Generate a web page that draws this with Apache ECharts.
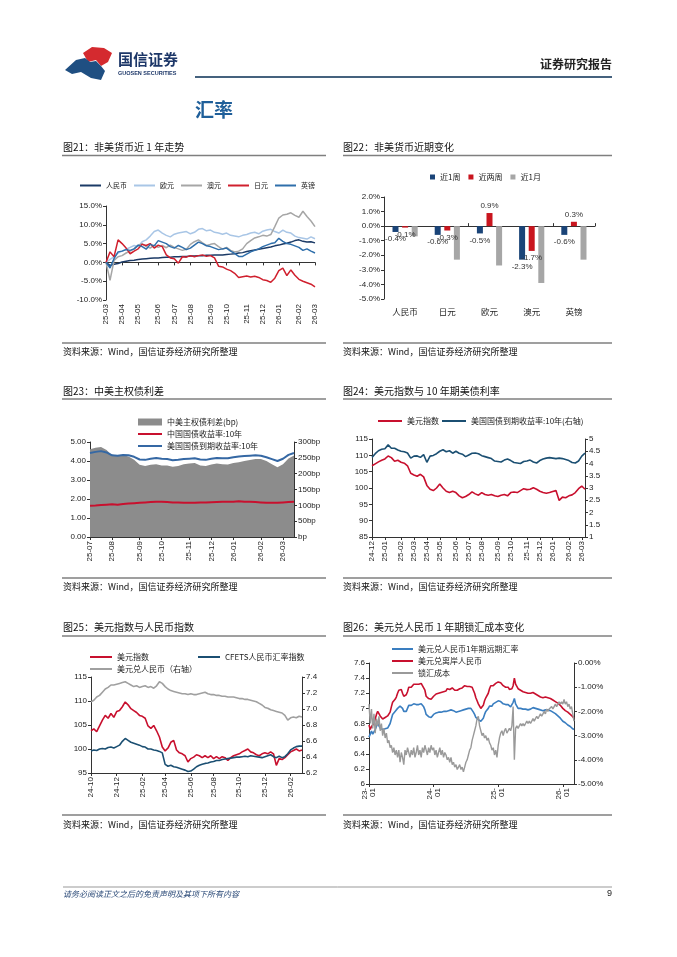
<!DOCTYPE html>
<html><head><meta charset="utf-8">
<script src="https://cdn.jsdelivr.net/npm/echarts@6.0.0/dist/echarts.min.js"></script>
<style>html,body{margin:0;padding:0;background:#fff}#c{width:677px;height:957px}</style>
</head><body><div id="c"></div>
<script>
// ---------- 图21 非美货币近1年走势 (weekly, %) ----------
const start21 = '2025-03-07';
const cny21 = [0,-0.8,-0.5,-0.3,0.1,0.3,0.5,0.6,0.8,0.9,1.0,1.1,1.2,1.2,1.3,1.4,1.4,1.5,1.5,1.6,1.6,1.7,1.7,1.8,1.8,1.9,1.9,2.0,2.0,2.0,2.1,2.2,2.3,2.5,2.6,2.9,3.1,3.3,3.5,3.7,3.9,4.1,4.4,4.6,4.9,5.1,5.4,5.8,6.0,5.6,5.4,5.5,5.2];
const eur21 = [0,0.8,1.5,2.5,3.0,3.5,4.0,4.5,4.2,5.5,6.0,7.0,8.2,8.6,7.8,7.2,6.8,7.5,7.8,8.0,8.2,7.6,8.0,8.8,9.0,8.4,8.6,8.0,7.8,7.5,7.8,7.2,7.0,6.8,7.2,7.4,7.8,8.0,7.6,8.3,8.6,8.8,8.2,7.8,8.6,8.0,7.8,7.0,6.6,6.4,6.2,6.8,6.3];
const aud21 = [0,-4.8,0.5,1.5,1.8,2.5,3.0,3.6,4.5,5.0,4.2,3.8,4.6,4.0,4.5,3.9,4.6,4.0,3.6,3.2,3.5,4.8,5.5,6.0,5.2,4.5,4.8,5.0,4.2,3.5,4.0,3.2,2.8,3.0,3.6,5.0,5.8,6.5,6.8,7.2,7.0,7.4,9.5,11.8,12.6,12.8,13.2,12.5,12.0,13.6,12.2,11.0,9.5];
const jpy21 = [0,2.8,1.5,6.0,5.0,3.8,2.3,3.0,3.6,4.8,4.5,5.0,3.8,4.6,4.2,2.0,1.2,1.0,-0.2,1.5,1.4,1.8,1.5,1.8,2.0,1.6,1.8,1.2,-1.0,-1.2,-1.8,-2.2,-2.9,-4.0,-3.8,-3.6,-3.9,-3.7,-4.0,-4.6,-4.8,-5.3,-4.2,-2.2,-1.5,-3.5,-2.0,-3.4,-4.5,-5.0,-5.4,-5.8,-6.5];
const gbp21 = [0,-1.5,1.0,2.8,3.0,3.4,3.2,3.6,4.6,4.2,3.5,4.8,4.4,5.8,5.4,5.0,4.2,3.8,4.5,4.0,3.4,3.8,4.6,5.4,5.0,4.4,4.2,3.8,3.4,3.6,3.8,3.0,2.4,1.6,1.6,2.2,2.8,3.2,3.6,4.2,4.6,5.0,5.2,6.4,5.6,5.0,4.8,4.4,4.0,3.2,3.6,3.0,2.5];
const names21 = ['人民币','欧元','澳元','日元','英镑'];

// ---------- 图22 非美货币近期变化 (%) ----------
const cats22 = ['人民币','日元','欧元','澳元','英镑'];
const week1_22 = [-0.4,-0.6,-0.5,-2.3,-0.6];
const week2_22 = [-0.1,-0.3,0.9,-1.7,0.3];
const month1_22 = [-0.7,-2.3,-2.7,-3.9,-2.3];

// ---------- 图23 中美主权债利差 (weekly) ----------
const start23 = '2025-07-04';
const spread23 = [277,282,284,275,258,258,258,254,244,228,224,228,230,226,226,222,224,230,232,234,226,224,229,232,230,229,234,236,240,243,246,246,240,230,220,230,248,257];
const cn23 = [1.65,1.66,1.68,1.70,1.72,1.70,1.74,1.76,1.78,1.80,1.82,1.84,1.86,1.86,1.84,1.82,1.82,1.80,1.80,1.80,1.82,1.82,1.83,1.84,1.85,1.85,1.86,1.88,1.86,1.85,1.84,1.82,1.80,1.80,1.80,1.82,1.84,1.85];
const us23 = [4.42,4.48,4.52,4.45,4.30,4.28,4.32,4.30,4.22,4.08,4.06,4.12,4.16,4.12,4.10,4.04,4.06,4.10,4.12,4.14,4.08,4.06,4.12,4.16,4.15,4.14,4.20,4.24,4.26,4.28,4.30,4.28,4.20,4.10,4.00,4.12,4.32,4.42];

// ---------- 图24 美元指数与10年期美债利率 (weekly) ----------
const start24 = '2024-12-06';
const dxy24 = [106.8,107.4,108.0,108.5,108.9,109.8,109.3,108.2,108.5,107.9,107.6,106.8,104.5,104.0,103.6,104.2,103.4,100.8,99.6,99.2,100.0,101.2,100.0,99.0,98.6,99.0,98.6,97.6,97.0,97.4,98.0,98.8,98.2,97.8,98.6,98.0,97.8,98.0,97.6,97.4,97.8,98.0,97.6,98.6,98.8,98.6,99.2,99.8,99.5,99.6,100.1,99.6,99.0,98.6,98.4,98.6,98.9,99.2,96.2,97.2,97.0,97.6,97.9,98.6,99.8,100.6,99.6];
const ust24 = [4.25,4.40,4.52,4.58,4.60,4.76,4.62,4.62,4.55,4.50,4.48,4.43,4.22,4.30,4.31,4.25,4.36,4.05,4.30,4.33,4.40,4.50,4.56,4.48,4.52,4.42,4.50,4.42,4.38,4.28,4.35,4.42,4.43,4.40,4.32,4.28,4.24,4.20,4.10,4.08,4.06,4.14,4.18,4.12,4.04,4.02,4.00,4.08,4.10,4.14,4.06,4.02,4.12,4.18,4.22,4.24,4.22,4.20,4.22,4.20,4.16,4.12,4.04,4.02,4.10,4.30,4.42];

// ---------- 图25 美元指数与人民币指数 (weekly) ----------
const start25 = '2024-10-04';
const dxy25 = [103.8,104.2,103.6,104.8,106.0,107.0,106.4,107.4,106.6,107.8,108.0,108.8,109.8,109.2,108.4,108.0,107.6,107.0,106.8,106.4,104.8,104.3,104.9,103.8,102.5,100.4,99.6,100.2,101.4,101.8,99.8,99.2,99.0,98.6,97.3,98.0,98.3,98.8,98.6,98.2,98.6,98.2,98.6,98.0,98.4,98.0,98.4,98.2,97.6,98.2,98.6,98.8,99.0,99.4,99.7,100.0,99.4,99.2,98.8,98.6,99.0,99.2,99.0,99.4,99.0,96.6,98.0,97.8,98.2,98.8,99.4,99.7,100.0,99.6,99.8];
const cfets25 = [99.6,99.8,99.7,100.0,100.1,100.0,100.3,100.4,100.2,100.5,100.8,101.6,102.2,101.8,101.4,101.2,101.0,100.8,100.5,100.4,100.0,100.0,99.8,99.7,99.5,99.2,96.8,96.4,96.6,96.3,96.2,96.0,95.8,95.6,95.3,95.4,95.8,96.3,96.6,96.8,97.0,97.1,97.3,97.4,97.6,97.6,97.8,97.9,98.0,98.1,98.2,98.3,98.3,98.4,98.5,98.4,98.6,98.5,98.4,98.3,98.2,98.4,98.6,98.8,98.4,98.2,98.5,98.2,98.4,99.0,99.8,100.2,100.5,100.6,100.6];
const cny25 = [7.09,7.11,7.15,7.17,7.21,7.25,7.27,7.30,7.30,7.31,7.32,7.33,7.34,7.32,7.30,7.28,7.29,7.27,7.28,7.29,7.27,7.28,7.26,7.29,7.34,7.32,7.28,7.25,7.23,7.22,7.21,7.20,7.19,7.19,7.18,7.19,7.18,7.18,7.19,7.20,7.21,7.19,7.18,7.18,7.17,7.17,7.16,7.16,7.15,7.15,7.15,7.14,7.13,7.13,7.12,7.12,7.11,7.10,7.09,7.07,7.05,7.02,7.01,6.99,6.98,6.97,6.96,6.95,6.92,6.86,6.89,6.90,6.89,6.91,6.90];

// ---------- 图26 美元兑人民币1年期锁汇成本变化 (weekly) ----------
const start26 = '2023-01-06';
const fwd26 = [6.62,6.66,6.70,6.66,6.68,6.72,6.76,6.80,6.78,6.74,6.72,6.72,6.74,6.73,6.72,6.74,6.76,6.80,6.86,6.92,6.94,6.96,6.98,7.00,7.02,7.03,7.04,7.00,6.96,6.95,6.96,7.00,7.04,7.05,7.04,7.05,7.06,7.04,7.05,7.06,7.05,7.04,7.06,7.04,7.02,6.98,6.92,6.90,6.89,6.90,6.88,6.90,
6.92,6.93,6.94,6.93,6.95,6.95,6.95,6.96,6.96,6.94,6.96,6.98,6.97,6.97,6.98,6.98,6.97,6.96,6.95,6.96,6.96,6.97,6.97,6.98,6.98,7.00,6.99,7.00,7.00,6.99,7.00,6.98,6.95,6.92,6.88,6.86,6.85,6.84,6.83,6.83,6.87,6.92,6.96,6.98,7.00,7.03,7.04,7.03,7.06,7.07,7.08,7.09,
7.10,7.11,7.09,7.08,7.06,7.06,7.05,7.03,7.05,7.03,7.02,7.04,7.08,7.13,7.06,7.04,7.00,6.99,7.00,6.99,6.99,6.99,6.99,6.99,6.98,7.00,6.99,7.00,7.01,7.01,7.00,7.00,6.99,6.98,6.98,6.97,6.97,6.98,6.98,6.97,6.98,6.97,6.97,6.96,6.95,6.95,6.93,6.91,6.90,6.89,6.87,6.85,
6.83,6.82,6.81,6.80,6.78,6.77,6.76,6.74,6.73,6.72];
const cnh26 = [6.78,6.72,6.76,6.78,6.80,6.86,6.92,6.96,6.96,6.90,6.88,6.86,6.88,6.88,6.87,6.90,6.92,6.95,7.02,7.08,7.10,7.12,7.15,7.20,7.24,7.26,7.25,7.20,7.16,7.15,7.18,7.22,7.28,7.30,7.28,7.30,7.32,7.30,7.32,7.33,7.32,7.31,7.33,7.30,7.28,7.24,7.16,7.14,7.13,7.14,7.12,7.14,
7.16,7.18,7.19,7.18,7.20,7.21,7.21,7.22,7.22,7.20,7.23,7.26,7.25,7.25,7.26,7.27,7.26,7.24,7.23,7.24,7.25,7.26,7.26,7.27,7.28,7.30,7.28,7.29,7.30,7.29,7.30,7.28,7.24,7.20,7.14,7.10,7.06,7.03,7.00,6.99,7.04,7.10,7.14,7.16,7.20,7.26,7.30,7.28,7.30,7.32,7.33,7.34,
7.35,7.36,7.34,7.33,7.30,7.30,7.28,7.26,7.28,7.25,7.24,7.26,7.30,7.40,7.32,7.30,7.26,7.24,7.24,7.23,7.22,7.22,7.21,7.21,7.20,7.21,7.20,7.20,7.21,7.20,7.19,7.18,7.17,7.16,7.15,7.15,7.14,7.15,7.15,7.14,7.14,7.13,7.13,7.12,7.11,7.10,7.09,7.08,7.07,7.06,7.04,7.02,
7.00,6.99,6.97,6.96,6.95,6.93,6.92,6.91,6.89,6.87];
const cost26 = [-1.7,-2.5,-1.9,-2.7,-2.1,-2.9,-2.3,-2.6,-2.2,-2.8,-2.5,-3.0,-2.7,
-3.1,-2.9,-3.3,-3.2,-3.5,-3.4,-3.7,-3.5,-3.8,-3.6,
-3.9,-3.6,-4.1,-3.7,-3.9,-4.2,-3.6,-3.8,-3.5,-3.7,
-3.9,-3.6,-3.8,-3.5,-3.9,-3.7,-3.4,-3.8,-3.6,-3.9,
-3.5,-3.7,-3.4,-3.6,-3.8,-3.5,-3.7,-3.4,-3.6,
-3.5,-3.8,-3.6,-3.9,-3.7,-3.5,-3.8,-3.6,-3.9,-3.7,
-3.8,-4.0,-3.9,-4.1,-3.9,-4.2,-4.1,-4.3,-4.2,-4.4,
-4.3,-4.2,-4.4,-4.3,-4.5,-4.3,-4.1,-4.0,-3.8,-3.6,
-3.5,-3.2,-3.0,-2.8,-2.6,-2.3,-2.2,-2.6,-2.8,-3.0,
-2.9,-3.1,-3.0,-3.2,-3.1,-3.3,-3.4,-3.6,-3.5,-3.8,-3.6,-3.9,
-3.4,-3.1,-2.9,-2.8,-3.0,-2.8,-2.7,-2.9,-2.8,-2.7,-2.8,-2.6,
-1.8,-4.0,-2.7,-2.6,
-2.7,-2.6,-2.5,-2.6,-2.5,-2.6,-2.5,-2.4,-2.5,-2.4,-2.5,-2.4,
-2.3,-2.4,-2.3,-2.2,-2.3,-2.2,-2.1,-2.2,-2.1,-2.0,-2.1,-1.9,
-2.0,-1.9,-1.9,-1.8,-1.9,-1.8,-1.7,-1.8,-1.7,-1.6,-1.7,-1.6,
-1.7,-1.5,-1.7,-1.6,-1.8,-1.7,-1.9,-1.8,-2.1,-2.4];

// ---------- helpers ----------
const FONT = "'Liberation Sans','Noto Sans CJK SC',sans-serif";
const CJK = "'Noto Sans CJK SC','Liberation Sans',sans-serif";
const AX = '#333';
function weekDates(start, n){ const t0 = Date.parse(start + 'T00:00:00Z'); const out = []; for (let i = 0; i < n; i++) out.push(new Date(t0 + i*7*86400000).toISOString().slice(0,10)); return out; }
function monthStarts(cats, keep){ const s = new Set(); for (let i = 0; i < cats.length; i++){ const m = cats[i].slice(0,7); if (i === 0 || m !== cats[i-1].slice(0,7)){ if (!keep || keep(+cats[i].slice(5,7))) s.add(i); } } return (idx) => s.has(idx); }
const fmtYM = v => v.slice(2,7);
const fmtYM2 = v => v.slice(2,5) + '\n' + v.slice(5,7);

const cats21 = weekDates(start21, cny21.length);
const cats23 = weekDates(start23, us23.length);
const cats24 = weekDates(start24, dxy24.length);
const cats25 = weekDates(start25, dxy25.length);
const cats26 = weekDates(start26, cnh26.length);

function valAxis(grid, min, max, interval, fmt, pos){
  return { type:'value', gridIndex:grid, min, max, interval, position:pos||'left',
    axisLine:{show:true, onZero:false, lineStyle:{color:AX, width:1}},
    axisTick:{show:true, length:3, lineStyle:{color:AX}},
    splitLine:{show:false},
    axisLabel:{formatter:fmt, fontSize:8, color:'#222', margin:4, fontFamily:FONT} };
}
function dateAxis(grid, cats, fmt, keep, hideLine){
  const show = monthStarts(cats, keep);
  return { type:'category', gridIndex:grid, data:cats, boundaryGap:false, position:'bottom',
    axisLine:{show:!hideLine, onZero:false, lineStyle:{color:AX}},
    axisTick:{show:!hideLine, interval:(i)=>show(i), length:3, lineStyle:{color:AX}},
    axisLabel:{interval:(i)=>show(i), formatter:fmt, rotate:90, fontSize:8, color:'#222', margin:4, fontFamily:FONT},
    splitLine:{show:false} };
}
function ln(name, x, y, data, color, w, z){
  return { type:'line', name, xAxisIndex:x, yAxisIndex:y, data, symbol:'none', showSymbol:false, color,
    lineStyle:{color, width:w||1.5}, itemStyle:{color}, z:z||2, silent:true };
}
function lg(left, top, names, iw, ih, gap, fs){
  return { left, top, padding:0, data:names, icon:'rect', itemWidth:iw||22, itemHeight:ih||2, itemGap:gap||8,
    selectedMode:false, textStyle:{fontSize:fs||8, color:'#222', fontFamily:CJK} };
}

const C21 = {cny:'#1b3a66', eur:'#a9c6e6', aud:'#a6a6a6', jpy:'#d0202e', gbp:'#2f6fab'};
const RED = '#c8102e', NAVY = '#1b4f72';
const ms21 = monthStarts(cats21);

const xAxis = [
  dateAxis(0, cats21, fmtYM, null, true),                         // 0
  { type:'category', gridIndex:0, data:cats21, boundaryGap:false, position:'top',
    axisLine:{show:true, onZero:true, lineStyle:{color:AX}},
    axisTick:{show:true, inside:true, length:3, interval:(i)=>ms21(i), lineStyle:{color:AX}},
    axisLabel:{show:false} },                                      // 1
  { type:'category', gridIndex:1, data:cats22, position:'bottom',
    axisLine:{show:false, onZero:false}, axisTick:{show:false},
    axisLabel:{fontSize:8.5, color:'#222', margin:9, fontFamily:CJK} }, // 2
  { type:'category', gridIndex:1, data:cats22, position:'top',
    axisLine:{show:true, onZero:true, lineStyle:{color:AX}},
    axisTick:{show:true, length:3, lineStyle:{color:AX}}, axisLabel:{show:false} }, // 3
  dateAxis(2, cats23, fmtYM),                                      // 4
  dateAxis(3, cats24, fmtYM),                                      // 5
  dateAxis(4, cats25, fmtYM, m => m % 2 === 0),                    // 6
  dateAxis(5, cats26, fmtYM2, m => m === 1)                        // 7
];
const yAxis = [
  valAxis(0, -10, 15, 5, v => v.toFixed(1) + '%'),                 // 0
  valAxis(1, -5, 2, 1, v => v.toFixed(1) + '%'),                   // 1
  valAxis(2, 0, 5, 1, v => v.toFixed(2)),                          // 2
  valAxis(2, 0, 300, 50, v => v === 0 ? 'bp' : v + 'bp', 'right'), // 3
  valAxis(3, 85, 115, 5, v => String(v)),                          // 4
  valAxis(3, 1, 5, 0.5, v => String(v), 'right'),                  // 5
  valAxis(4, 95, 115, 5, v => String(v)),                          // 6
  valAxis(4, 6.2, 7.4, 0.2, v => v.toFixed(1), 'right'),           // 7
  valAxis(5, 6, 7.6, 0.2, v => String(Math.round(v*10)/10)),       // 8
  valAxis(5, -5, 0, 1, v => v.toFixed(2) + '%', 'right')           // 9
];

const barLabel = {show:true, position:'outside', distance:3, fontSize:8, color:'#333', fontFamily:FONT, formatter:p => p.value.toFixed(1) + '%'};
const series = [
  ln('人民币', 0, 0, cny21, C21.cny, 1.5),
  ln('欧元', 0, 0, eur21, C21.eur, 1.5),
  ln('澳元', 0, 0, aud21, C21.aud, 1.5),
  ln('日元', 0, 0, jpy21, C21.jpy, 1.5),
  ln('英镑', 0, 0, gbp21, C21.gbp, 1.5),
  {type:'bar', name:'近1周', xAxisIndex:2, yAxisIndex:1, data:week1_22, barWidth:6, barGap:'60%', color:'#1a4478', itemStyle:{color:'#1a4478'}, label:barLabel, silent:true},
  {type:'bar', name:'近两周', xAxisIndex:2, yAxisIndex:1, data:week2_22, barWidth:6, barGap:'60%', color:'#c9151e', itemStyle:{color:'#c9151e'}, label:barLabel, silent:true},
  {type:'bar', name:'近1月', xAxisIndex:2, yAxisIndex:1, data:month1_22, barWidth:6, barGap:'60%', color:'#a6a6a6', itemStyle:{color:'#a6a6a6'}, label:{show:false}, silent:true},
  {type:'line', name:'中美主权债利差(bp)', xAxisIndex:4, yAxisIndex:3, data:spread23, symbol:'none', color:'#8c8c8c', itemStyle:{color:'#8c8c8c'}, lineStyle:{width:0, color:'#8c8c8c'}, areaStyle:{color:'#8c8c8c', opacity:1}, z:1, silent:true},
  ln('中国国债收益率:10年', 4, 2, cn23, RED, 2),
  ln('美国国债到期收益率:10年', 4, 2, us23, '#3568a4', 2),
  ln('美元指数', 5, 4, dxy24, RED, 1.6),
  ln('美国国债到期收益率:10年(右轴)', 5, 5, ust24, NAVY, 1.6),
  ln('美元指数', 6, 6, dxy25, RED, 1.6),
  ln('CFETS人民币汇率指数', 6, 6, cfets25, NAVY, 1.6),
  ln('美元兑人民币（右轴）', 6, 7, cny25, '#a0a0a0', 1.6),
  ln('美元兑人民币1年期远期汇率', 7, 8, fwd26, '#3a7ec0', 1.6),
  ln('美元兑离岸人民币', 7, 8, cnh26, RED, 1.6),
  ln('锁汇成本', 7, 9, cost26, '#9a9a9a', 1.4)
];

const legend = [
  lg(80, 182, names21, 21, 2, 7, 7),
  lg(430, 173, ['近1周','近两周','近1月'], 5, 5, 8),
  lg(138, 418, ['中美主权债利差(bp)'], 24, 7),
  lg(138, 430, ['中国国债收益率:10年'], 24, 2),
  lg(138, 442, ['美国国债到期收益率:10年'], 24, 2),
  lg(378, 417, ['美元指数','美国国债到期收益率:10年(右轴)'], 24, 2, 3),
  lg(90, 653, ['美元指数'], 22, 2),
  lg(198, 653, ['CFETS人民币汇率指数'], 22, 2),
  lg(90, 665, ['美元兑人民币（右轴）'], 22, 2),
  lg(392, 645, ['美元兑人民币1年期远期汇率'], 21, 2),
  lg(392, 657, ['美元兑离岸人民币'], 21, 2),
  lg(392, 669, ['锁汇成本'], 21, 2)
];

function txt(x, y, text, size, opt){ opt = opt || {}; return {type:'text', x, y, silent:true, style:{text, fontSize:size, fontFamily:opt.ff||CJK, fontWeight:opt.w||'normal', fontStyle:opt.it||'normal', fill:opt.c||'#111', align:opt.a||'left', verticalAlign:'middle'}}; }
function rule(x1, y, x2, c, w){ return {type:'line', silent:true, shape:{x1, y1:y, x2, y2:y}, style:{stroke:c||'#7f7f7f', lineWidth:w||1.5}}; }
const titles = [
  [63,147,'图21：非美货币近 1 年走势'], [343,147,'图22：非美货币近期变化'],
  [63,391,'图23：中美主权债利差'], [343,391,'图24：美元指数与 10 年期美债利率'],
  [63,627,'图25：美元指数与人民币指数'], [343,627,'图26：美元兑人民币 1 年期锁汇成本变化']
];
const src = '资料来源：Wind，国信证券经济研究所整理';
const elements = [
  {type:'polygon', silent:true, shape:{points:[[83,53],[92,47],[104,48],[112,53],[108,62],[101,66],[96,60],[88,62]]}, style:{fill:'#d42a2f'}},
  {type:'polygon', silent:true, shape:{points:[[65,70],[76,60],[85,58],[90,62],[96,61],[101,66],[105,71],[101,80],[91,78],[81,72],[72,74]]}, style:{fill:'#1f4f82'}},
  txt(118, 59, '国信证券', 15, {w:'bold', c:'#1d3768'}),
  txt(118, 73, 'GUOSEN SECURITIES', 5.5, {w:'bold', c:'#1d3768', ff:FONT}),
  txt(612, 64, '证券研究报告', 12, {w:'bold', c:'#222', a:'right'}),
  rule(195, 77, 612, '#45627e', 2),
  txt(195, 110, '汇率', 19, {w:'bold', c:'#1f5f9a'}),
  rule(62, 155.5, 326), rule(343, 155.5, 612),
  rule(62, 399, 326), rule(343, 399, 612),
  rule(62, 636, 326), rule(343, 636, 612),
  rule(62, 343, 326), rule(343, 343, 612),
  rule(62, 578, 326), rule(343, 578, 612),
  rule(62, 815, 326), rule(343, 815, 612),
  txt(63, 352, src, 9), txt(343, 352, src, 9),
  txt(63, 587, src, 9), txt(343, 587, src, 9),
  txt(63, 825, src, 9), txt(343, 825, src, 9),
  rule(63, 887, 612, '#999', 1),
  txt(63, 894, '请务必阅读正文之后的免责声明及其项下所有内容', 8, {it:'italic', c:'#2b4a78'}),
  txt(612, 894, '9', 9, {a:'right', c:'#222', ff:FONT})
];
titles.forEach(t => elements.push(txt(t[0], t[1], t[2], 10, {c:'#111'})));

const chart = echarts.init(document.getElementById('c'), null, {renderer:'canvas', width:677, height:957});
chart.setOption({
  animation:false, backgroundColor:'#fff', textStyle:{fontFamily:FONT},
  grid:[
    {left:106, top:206, width:209, height:94, outerBoundsMode:'none'},
    {left:384, top:197, width:211, height:102, outerBoundsMode:'none'},
    {left:90, top:442, width:204, height:95, outerBoundsMode:'none'},
    {left:372, top:439, width:213, height:98, outerBoundsMode:'none'},
    {left:91, top:677, width:211, height:96, outerBoundsMode:'none'},
    {left:369, top:663, width:205, height:121, outerBoundsMode:'none'}
  ],
  xAxis, yAxis, legend, series,
  graphic:{elements}
});
</script></body></html>
